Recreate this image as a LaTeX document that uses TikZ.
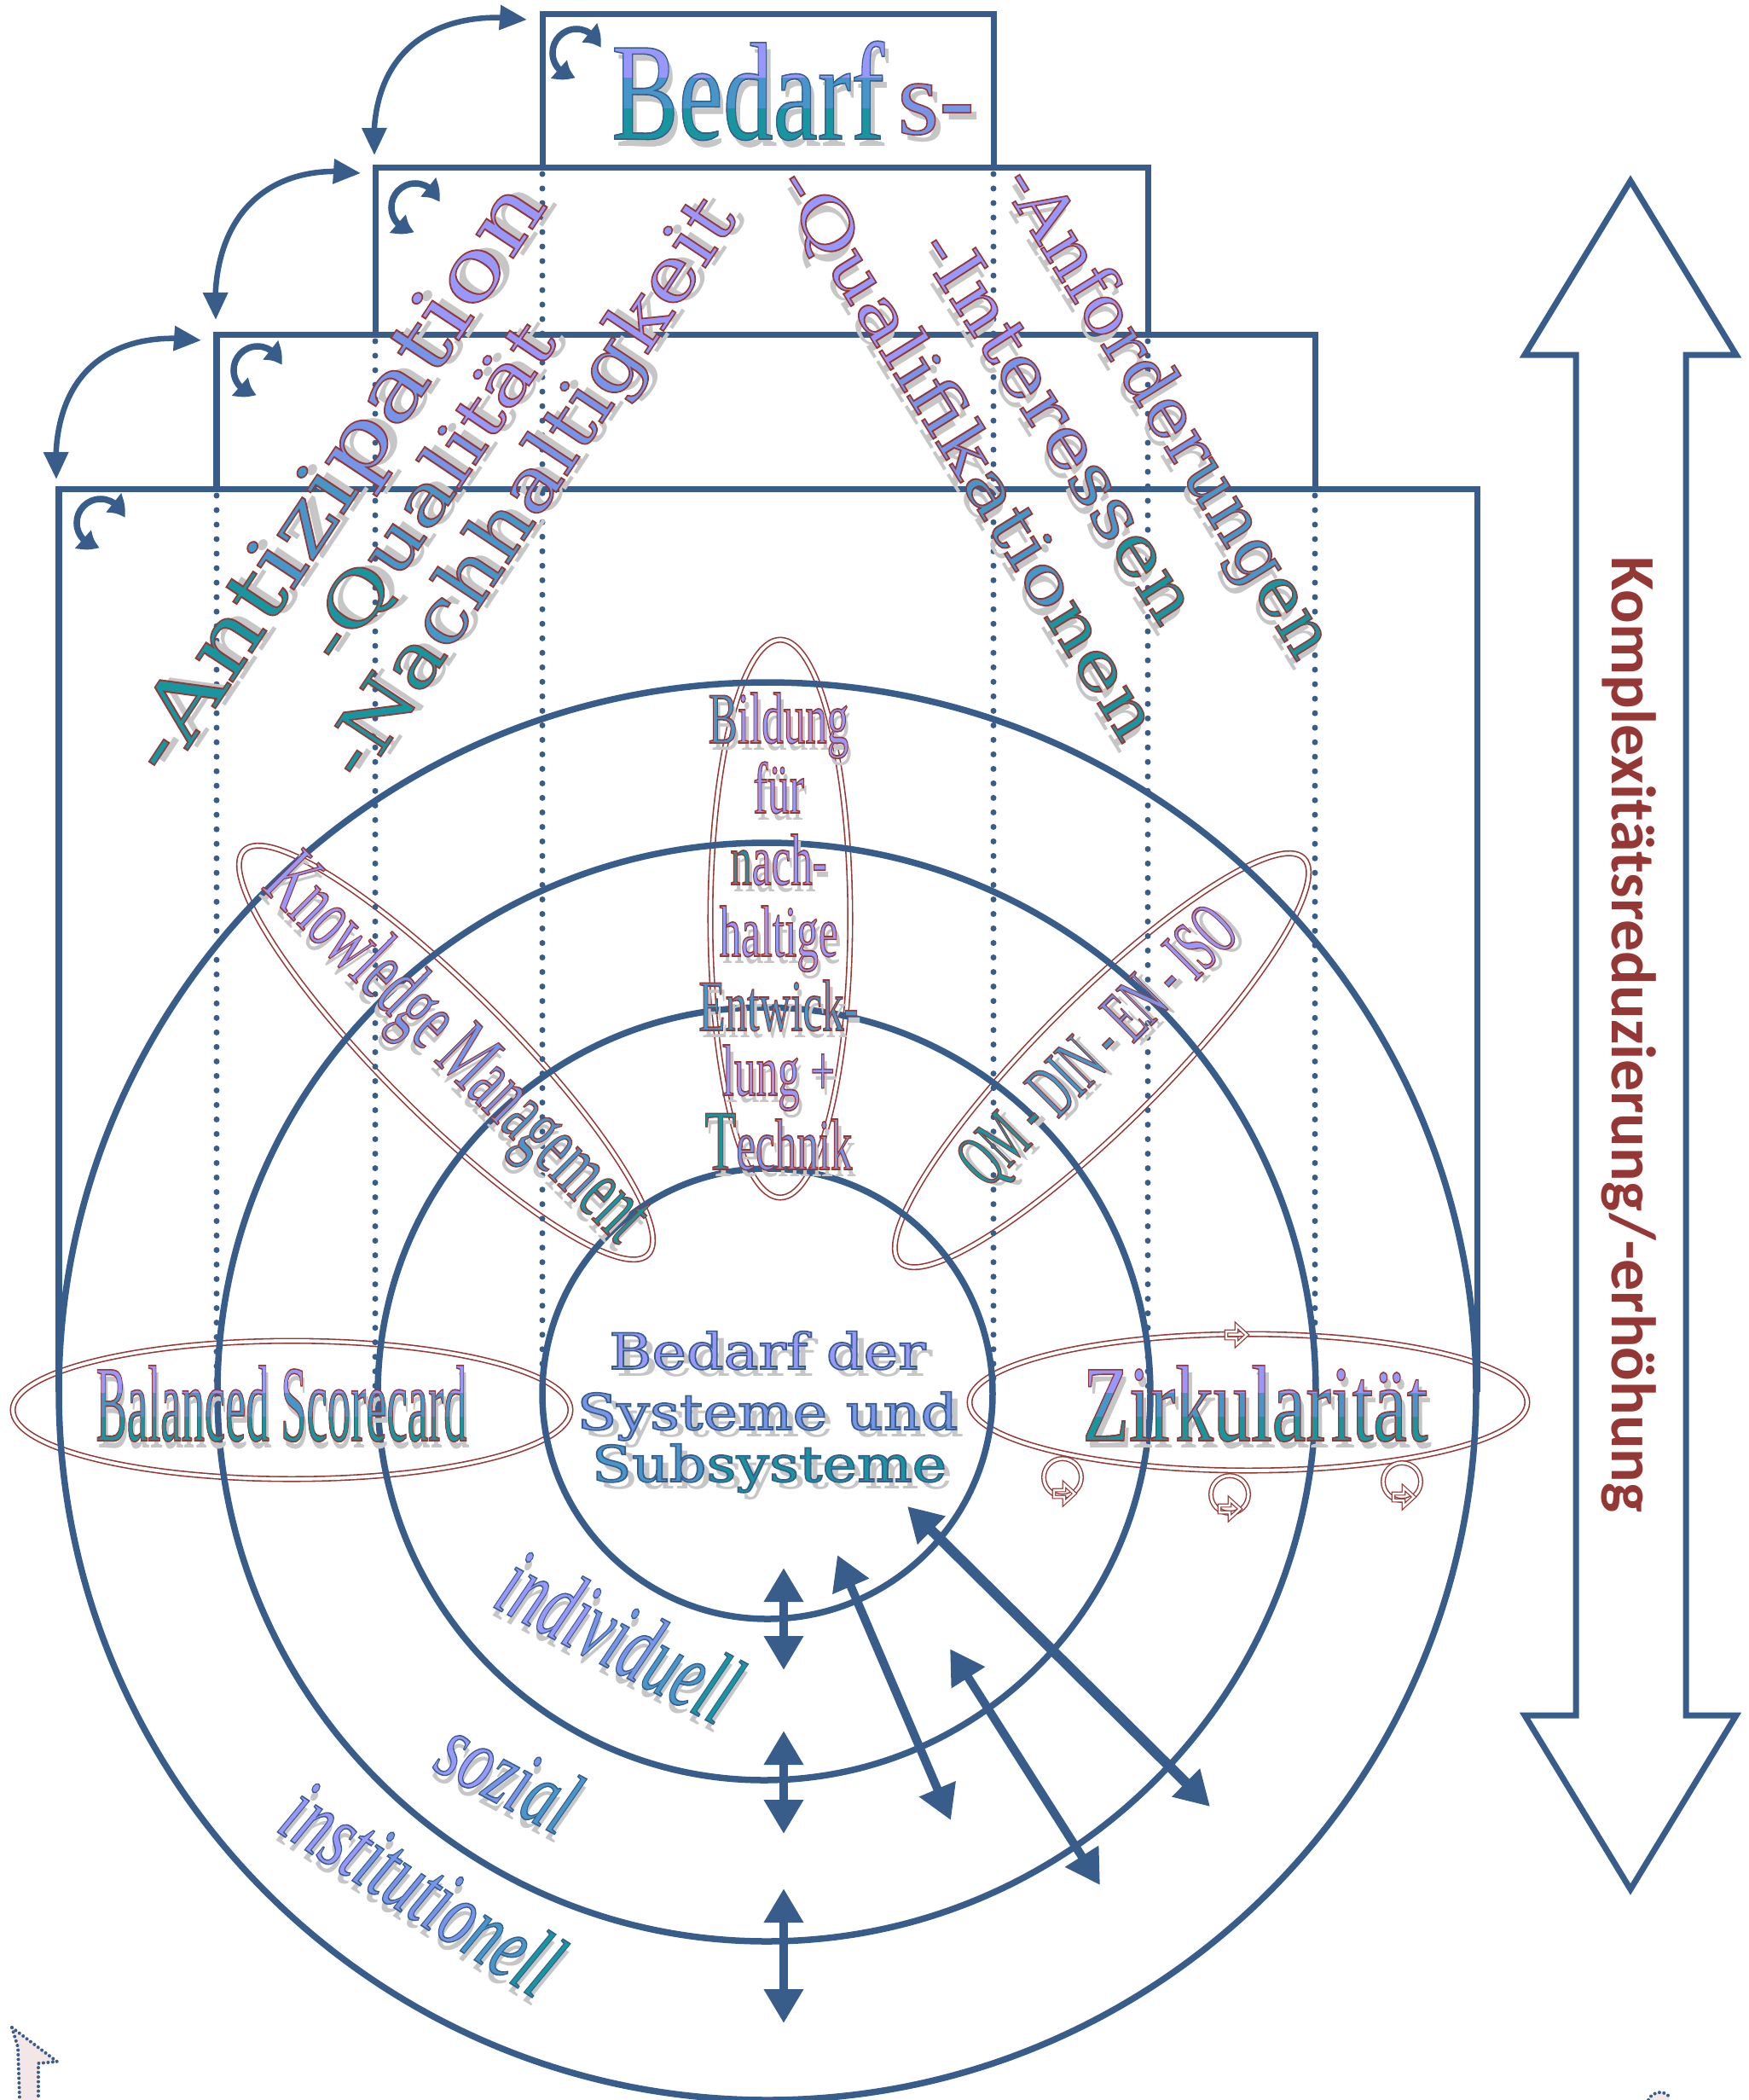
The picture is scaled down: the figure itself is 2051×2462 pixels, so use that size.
\documentclass[tikz,border=0pt]{standalone}
\usepackage{fontspec}
\usepackage{graphicx}
\usetikzlibrary{arrows.meta,bending}
\setmainfont{Liberation Serif}
\newfontfamily\wideserif{DejaVu Serif}
\newfontfamily\labelsans{Carlito}

\definecolor{lineblue}{RGB}{56,93,138}
\definecolor{wred}{RGB}{149,55,53}
\definecolor{lav}{RGB}{152,152,252}
\definecolor{lavmid}{RGB}{118,148,232}
\definecolor{tealmid}{RGB}{70,150,202}
\definecolor{tealdk}{RGB}{24,150,160}
\definecolor{shadowgray}{RGB}{198,198,198}
\definecolor{palepink}{RGB}{242,230,230}

% wordart letters: coloured fill, thin red (or blue) outline, grey shadow
\newcommand{\wa}[2]{{\color{#1}\special{pdf:literal direct 2 Tr 0.45 w 0.584 0.216 0.208 RG}#2\special{pdf:literal direct 0 Tr}}}
\newcommand{\wab}[2]{{\color{#1}\special{pdf:literal direct 2 Tr 0.45 w 0.22 0.365 0.54 RG}#2\special{pdf:literal direct 0 Tr}}}
\newcommand{\waplain}[2]{{#2}}
\newcommand{\wtext}[2]{\scalebox{#1}[1]{\rlap{\kern2pt\raisebox{-2.5pt}{\color{shadowgray}\let\wa\waplain\let\wab\waplain#2}}#2}}

\tikzset{
  boxline/.style={lineblue, line width=0.07cm},
  dotline/.style={lineblue, line width=0.07cm, line cap=round, dash pattern=on 0pt off 0.17cm},
  ring/.style={lineblue, line width=0.075cm},
  redring/.style={draw=wred, line width=0.45pt, double=white, double distance=1.1pt},
  hop/.style={lineblue, line width=0.065cm, {Triangle[length=0.32cm,width=0.28cm]}-{Triangle[length=0.32cm,width=0.28cm]}},
  turn/.style={lineblue, line width=0.075cm, {Triangle[length=0.22cm,width=0.27cm,bend]}-{Triangle[length=0.22cm,width=0.27cm,bend]}},
  link/.style={lineblue, line width=0.1cm, {Triangle[length=0.4cm,width=0.44cm]}-{Triangle[length=0.4cm,width=0.44cm]}},
  hollow/.pic={\draw[draw=wred, line width=0.35pt, double=white, double distance=0.7pt] (-12,-4) -- (0,-4) -- (0,-11) -- (12,0) -- (0,11) -- (0,4) -- (-12,4) -- cycle;},
}

\begin{document}
\begin{tikzpicture}[x=0.01cm, y=-0.01cm]
\useasboundingbox (0,0) rectangle (2051,2462);

% red rings
\draw[redring] (915,1077) ellipse [x radius=82, y radius=327];
\draw[redring, rotate around={-45:(523,1234)}] (523,1234) ellipse [x radius=335, y radius=74];
\draw[redring, rotate around={45:(1292,1243)}] (1292,1243) ellipse [x radius=335, y radius=74];
\draw[redring] (342,1653) ellipse [x radius=327, y radius=81];
\draw[redring] (1464,1644) ellipse [x radius=327, y radius=80];
\pic at (1450,1565) {hollow};
\draw[redring, line width=0.4pt, double distance=0.9pt] (1246,1732) circle [radius=22];
\draw[redring, line width=0.4pt, double distance=0.9pt] (1442,1752) circle [radius=22];
\draw[redring, line width=0.4pt, double distance=0.9pt] (1644,1737) circle [radius=22];
\pic at (1248,1751) {hollow};
\pic at (1442,1769) {hollow};
\pic at (1646,1755) {hollow};

% stacked boxes
\draw[boxline] (636,196) -- (636,16) -- (1165,16) -- (1165,196);
\draw[boxline] (440,392) -- (440,196) -- (1346,196) -- (1346,392);
\draw[boxline] (254,573) -- (254,392) -- (1542,392) -- (1542,573);
\draw[boxline] (69,1632) -- (69,573) -- (1732,573) -- (1732,1632);
\draw[dotline] (636,204) -- (636,1630);
\draw[dotline] (1165,204) -- (1165,1630);
\draw[dotline] (440,400) -- (440,1630);
\draw[dotline] (1346,400) -- (1346,1630);
\draw[dotline] (254,581) -- (254,1630);
\draw[dotline] (1542,581) -- (1542,1630);

% rings
\draw[ring] (900,1634) circle [radius=264];
\draw[ring] (896,1634) circle [radius=453];
\draw[ring] (899,1632) circle [radius=644];
\draw[ring] (900,1631) circle [radius=831];

% turning arrows in the corners
\draw[turn] (676,62) ++(12:0.28cm) arc[start angle=12, end angle=268, radius=0.28cm];
\draw[turn] (487,243) ++(12:0.28cm) arc[start angle=12, end angle=268, radius=0.28cm];
\draw[turn] (302,434) ++(12:0.28cm) arc[start angle=12, end angle=268, radius=0.28cm];
\draw[turn] (118,613) ++(12:0.28cm) arc[start angle=12, end angle=268, radius=0.28cm];

% arrows between the boxes
\coordinate (h1a) at (618,23);
\coordinate (h1b) at (439,182);
\coordinate (h2a) at (423,203);
\coordinate (h2b) at (253,375);
\coordinate (h3a) at (236,399);
\coordinate (h3b) at (66,562);
\draw[hop] (h1b) .. controls (431,62) and (508,8) .. (h1a);
\draw[hop] (h2b) .. controls (245,255) and (313,188) .. (h2a);
\draw[hop] (h3b) .. controls (58,442) and (126,384) .. (h3a);

% arrows across the rings
\coordinate (v1a) at (919,1838);
\coordinate (v1b) at (919,1958);
\coordinate (v2a) at (919,2029);
\coordinate (v2b) at (919,2150);
\coordinate (v3a) at (919,2214);
\coordinate (v3b) at (919,2372);
\coordinate (d1a) at (982,1823);
\coordinate (d1b) at (1115,2134);
\coordinate (d2a) at (1114,1933);
\coordinate (d2b) at (1290,2210);
\coordinate (d3a) at (1064,1766);
\coordinate (d3b) at (1419,2118);
\draw[link] (v1a) -- (v1b);
\draw[link] (v2a) -- (v2b);
\draw[link] (v3a) -- (v3b);
\draw[link] (d1a) -- (d1b);
\draw[link] (d2a) -- (d2b);
\draw[link, line width=0.12cm] (d3a) -- (d3b);

% complexity arrow
\draw[lineblue, line width=0.07cm] (1912,212) -- (2036,416) -- (1977,416) -- (1977,2011) -- (2036,2011) -- (1912,2215) -- (1788,2011) -- (1848,2011) -- (1848,416) -- (1788,416) -- cycle;
\node[rotate=-90, anchor=base, text=wred, font=\labelsans\bfseries\fontsize{21pt}{24pt}\selectfont] (komplex) at (1890,1213) {Komplexitätsreduzierung/-erhöhung};

% cut-off shapes at the lower corners
\fill[palepink] (14,2377) -- (67,2417) -- (45,2419) -- (45,2462) -- (23,2462) -- (21,2400) -- cycle;
\draw[lineblue, line width=0.04cm, line cap=round, dash pattern=on 0pt off 0.055cm] (14,2377) -- (67,2417) -- (45,2419) -- (45,2462);
\draw[lineblue, line width=0.04cm, line cap=round, dash pattern=on 0pt off 0.055cm] (14,2377) -- (21,2400) -- (23,2462);
\fill[palepink] (1933,2462) .. controls (1937,2451) and (1955,2450) .. (1958,2460) -- (1958,2462) -- cycle;
\draw[lineblue, line width=0.04cm, line cap=round, dash pattern=on 0pt off 0.055cm] (1933,2462) .. controls (1937,2451) and (1955,2450) .. (1958,2460);

% Bedarfs- (three colour bands)
\node[anchor=base west, font=\fontsize{46.4pt}{50pt}\selectfont] (bedarf) at (705,163) {\wtext{0.72}{\wab{lav}{Bedarf}}};
\begin{scope}
\clip (690,91) rectangle (1045,200);
\node[anchor=base west, font=\fontsize{46.4pt}{50pt}\selectfont] (bedarfb) at (705,163) {\wtext{0.72}{\wab{tealmid}{Bedarf}}};
\end{scope}
\begin{scope}
\clip (690,127) rectangle (1045,200);
\node[anchor=base west, font=\fontsize{46.4pt}{50pt}\selectfont] (bedarfc) at (705,163) {\wtext{0.72}{\wab{tealdk}{Bedarf}}};
\end{scope}
\node[anchor=base west, font=\fontsize{35.6pt}{40pt}\selectfont] (bedarfs) at (1040,157) {\wtext{1}{\wa{lavmid}{s-}}};

% diagonal words
\node[rotate=56.5, font=\wideserif\fontsize{28.4pt}{32pt}\selectfont] (antiz) at (402,565) {\wtext{1.25}{\wa{tealdk}{-Ant}\wa{tealmid}{izi}\wa{lavmid}{pat}\wa{lav}{ion}}};
\node[rotate=56, font=\wideserif\fontsize{23pt}{26pt}\selectfont] (quali) at (510,580) {\wtext{1.28}{\wa{tealdk}{-Q}\wa{tealmid}{ua}\wa{lavmid}{li}\wa{lav}{tät}}};
\node[rotate=56.4, font=\wideserif\fontsize{25.3pt}{28pt}\selectfont] (nachh) at (629,577) {\wtext{1.14}{\wa{tealdk}{-Na}\wa{tealmid}{chh}\wa{lavmid}{altig}\wa{lav}{keit}}};
\node[rotate=-58.2, font=\wideserif\fontsize{21.9pt}{25pt}\selectfont] (qualif) at (1129,535) {\wtext{1.24}{\wa{lav}{-Qual}\wa{lavmid}{ifik}\wa{tealmid}{atio}\wa{tealdk}{nen}}};
\node[rotate=-57.2, font=\wideserif\fontsize{23pt}{26pt}\selectfont] (inter) at (1239,501) {\wtext{1.15}{\wa{lav}{-Int}\wa{lavmid}{ere}\wa{tealmid}{ss}\wa{tealdk}{en}}};
\node[rotate=-58.2, font=\wideserif\fontsize{23pt}{26pt}\selectfont] (anford) at (1362,487) {\wtext{1.02}{\wa{lav}{-Anfo}\wa{lavmid}{rder}\wa{tealmid}{ung}\wa{tealdk}{en}}};

% Bildung fuer nachhaltige Entwicklung + Technik
\node[anchor=base, font=\fontsize{24.2pt}{26pt}\selectfont] (bild1) at (913,871) {\wtext{0.6}{\wa{tealmid}{B}\wa{lav}{ildung}}};
\node[anchor=base, font=\fontsize{24.2pt}{26pt}\selectfont] (bild2) at (913,953) {\wtext{0.6}{\wa{lav}{für}}};
\node[anchor=base, font=\fontsize{24.2pt}{26pt}\selectfont] (bild3) at (913,1037) {\wtext{0.6}{\wa{tealdk}{n}\wa{lav}{ach-}}};
\node[anchor=base, font=\fontsize{24.2pt}{26pt}\selectfont] (bild4) at (913,1121) {\wtext{0.6}{\wa{lav}{haltige}}};
\node[anchor=base, font=\fontsize{24.2pt}{26pt}\selectfont] (bild5) at (913,1208) {\wtext{0.6}{\wa{tealmid}{Entwick-}}};
\node[anchor=base, font=\fontsize{24.2pt}{26pt}\selectfont] (bild6) at (913,1284) {\wtext{0.6}{\wa{lav}{lung +}}};
\node[anchor=base, font=\fontsize{24.2pt}{26pt}\selectfont] (bild7) at (913,1371) {\wtext{0.6}{\wa{tealdk}{\fontsize{28.5pt}{30pt}\selectfont T}\wa{lavmid}{echnik}}};

% tilted rings
\node[rotate=-45, font=\fontsize{29.9pt}{32pt}\selectfont] (know) at (530,1236) {\wtext{0.56}{\wa{lav}{Knowl}\wa{lavmid}{edge Man}\wa{tealmid}{agem}\wa{tealdk}{ent}}};
\node[rotate=45, font=\fontsize{25.6pt}{28pt}\selectfont] (qm) at (1294,1233) {\wtext{0.53}{\wa{tealdk}{QM - }\wa{tealmid}{DIN - }\wa{lavmid}{EN - }\wa{lav}{ISO}}};

% Balanced Scorecard
\node[anchor=base, font=\fontsize{36.1pt}{40pt}\selectfont] (bsc) at (330,1689) {\wtext{0.43}{\wa{lav}{Balanced Scorecard}}};
\begin{scope}
\clip (100,1633) rectangle (570,1760);
\node[anchor=base, font=\fontsize{36.1pt}{40pt}\selectfont] (bscb) at (330,1689) {\wtext{0.43}{\wa{tealmid}{Balanced Scorecard}}};
\end{scope}
\begin{scope}
\clip (100,1661) rectangle (570,1760);
\node[anchor=base, font=\fontsize{36.1pt}{40pt}\selectfont] (bscc) at (330,1689) {\wtext{0.43}{\wa{tealdk}{Balanced Scorecard}}};
\end{scope}

% Zirkularitaet
\node[anchor=base, font=\fontsize{36.1pt}{40pt}\selectfont] (zirk) at (1472,1689) {\wtext{0.7}{\wa{lav}{Zirkularität}}};
\begin{scope}
\clip (1250,1633) rectangle (1700,1760);
\node[anchor=base, font=\fontsize{36.1pt}{40pt}\selectfont] (zirkb) at (1472,1689) {\wtext{0.7}{\wa{tealmid}{Zirkularität}}};
\end{scope}
\begin{scope}
\clip (1250,1661) rectangle (1700,1760);
\node[anchor=base, font=\fontsize{36.1pt}{40pt}\selectfont] (zirkc) at (1472,1689) {\wtext{0.7}{\wa{tealdk}{Zirkularität}}};
\end{scope}

% centre
\node[anchor=base, font=\wideserif\fontsize{16.6pt}{18pt}\selectfont] (sys1) at (900,1605) {\wtext{1.17}{\wab{lav}{Bedarf der}}};
\node[anchor=base, font=\wideserif\fontsize{16.6pt}{18pt}\selectfont] (sys2) at (900,1676) {\wtext{1.17}{\wab{lavmid}{Systeme und}}};
\node[anchor=base, font=\wideserif\fontsize{16.6pt}{18pt}\selectfont] (sys3) at (902,1737) {\wtext{1.17}{\wab{tealmid}{Sub}\wab{tealdk}{systeme}}};

% levels
\node[rotate=-28, anchor=base, font=\itshape\fontsize{33.3pt}{36pt}\selectfont] (indiv) at (708,1953) {\wtext{0.6}{\wab{lav}{indi}\wab{lavmid}{vid}\wab{tealmid}{ue}\wab{tealdk}{ll}}};
\node[rotate=-28, anchor=base, font=\itshape\fontsize{30.7pt}{34pt}\selectfont] (sozial) at (580,2113) {\wtext{0.67}{\wab{lav}{so}\wab{lavmid}{zi}\wab{tealmid}{al}}};
\node[rotate=-33, anchor=base, font=\itshape\fontsize{31.6pt}{34pt}\selectfont] (instit) at (475,2245) {\wtext{0.65}{\wab{lav}{inst}\wab{lavmid}{itutio}\wab{tealmid}{ne}\wab{tealdk}{ll}}};
\end{tikzpicture}
\end{document}
